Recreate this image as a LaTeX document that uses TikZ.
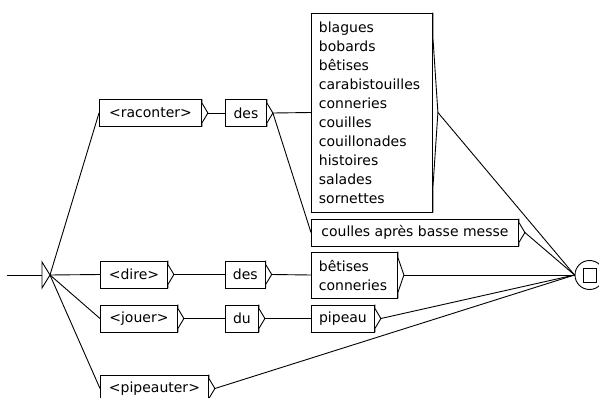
\documentclass[tikz,border=0pt]{standalone}
\usepackage{fontspec}
\setmainfont{DejaVu Sans}
\usetikzlibrary{calc}

%% right-hand output mark of a box: #1 node, #2 straight part, #3 tip offset
\newcommand{\boxout}[3]{%
  \draw[edge] (#1.north east) -- ++(0,#2)
    -- ($(#1.east)+(#3,0)$) coordinate (#1-out)
    -- ($(#1.south east)+(0,-#2)$) -- (#1.south east);}

\begin{document}
\begin{tikzpicture}[x=1pt, y=-1pt,
  %% --- Node styles ---
  box/.style={
    draw, rectangle, anchor=west,
    inner xsep=7.5pt, inner ysep=0pt,
    minimum height=27pt,
    font=\fontsize{14}{19}\selectfont,
    line width=0.9pt
  },
  multibox/.style={box, align=left},
  state/.style={draw, inner sep=0pt, line width=0.9pt},
  %% --- Edge style ---
  edge/.style={line width=0.9pt, draw=black}
]
\useasboundingbox (0,0) rectangle (599,398);
\clip (0,0) rectangle (599,398);

%% =========================================================
%% STATES
%% =========================================================
\coordinate (entry) at (7,275);
\coordinate (init)  at (50,275);
\draw[edge] (init) -- ++(-8,-13) -- ++(0,26) -- cycle;
\draw[edge] (entry) -- ($(init)+(-8,0)$);

\node (final) [state, circle, minimum size=29pt] at (589.5,275) {};
\node (finalsq) [state, minimum width=13pt, minimum height=14pt] at (final.center) {};

%% =========================================================
%% BOXES
%% =========================================================
\node (raconter)  [box, minimum width=102pt] at (99,113)  {<raconter>};
\node (des1)      [box, minimum width=41pt]  at (225,113) {des};
\node (mots)      [multibox, text width=106pt, minimum height=199pt] at (311,112.5)
      {blagues\\bobards\\bêtises\\carabistouilles\\conneries\\couilles\\couillonades\\histoires\\salades\\sornettes};
\node (coulles)   [box, minimum width=207pt] at (311,232.5) {coulles après basse messe};

\node (dire)      [box, minimum width=67pt]  at (100,274.5) {<dire>};
\node (des2)      [box, minimum width=39pt]  at (225,274.5) {des};
\node (betises)   [multibox, text width=71pt, minimum height=46pt] at (311,275)
      {bêtises\\conneries};

\node (jouer)     [box, minimum width=77pt]  at (100,318.5) {<jouer>};
\node (du)        [box, minimum width=33pt]  at (225,318.5) {du};
\node (pipeau)    [box, minimum width=63pt]  at (311,318.5) {pipeau};

\node (pipeauter) [box, minimum width=108pt] at (100,388.5) {<pipeauter>};

%% output marks
\boxout{raconter}{4}{6}
\boxout{des1}{4}{6}
\boxout{mots}{25}{5}
\boxout{coulles}{4}{6}
\boxout{dire}{4}{6}
\boxout{des2}{4}{6}
\boxout{betises}{6}{6}
\boxout{jouer}{4}{6}
\boxout{du}{4}{6}
\boxout{pipeau}{4}{6}
\boxout{pipeauter}{4}{6}

%% =========================================================
%% TRANSITIONS
%% =========================================================
\draw[edge] (init) -- (raconter.west);
\draw[edge] (init) -- (dire.west);
\draw[edge] (init) -- (jouer.west);
\draw[edge] (init) -- (pipeauter.west);

\draw[edge] (raconter-out) -- (des1.west);
\draw[edge] (des1-out) -- (mots.west);
\draw[edge] (des1-out) -- (coulles.west);
\draw[edge] (mots-out) -- (final.west);
\draw[edge] (coulles-out) -- (final.west);

\draw[edge] (dire-out) -- (des2.west);
\draw[edge] (des2-out) -- (betises.west);
\draw[edge] (betises-out) -- (final.west);

\draw[edge] (jouer-out) -- (du.west);
\draw[edge] (du-out) -- (pipeau.west);
\draw[edge] (pipeau-out) -- (final.west);

\draw[edge] (pipeauter-out) -- (final.west);

\end{tikzpicture}
\end{document}
